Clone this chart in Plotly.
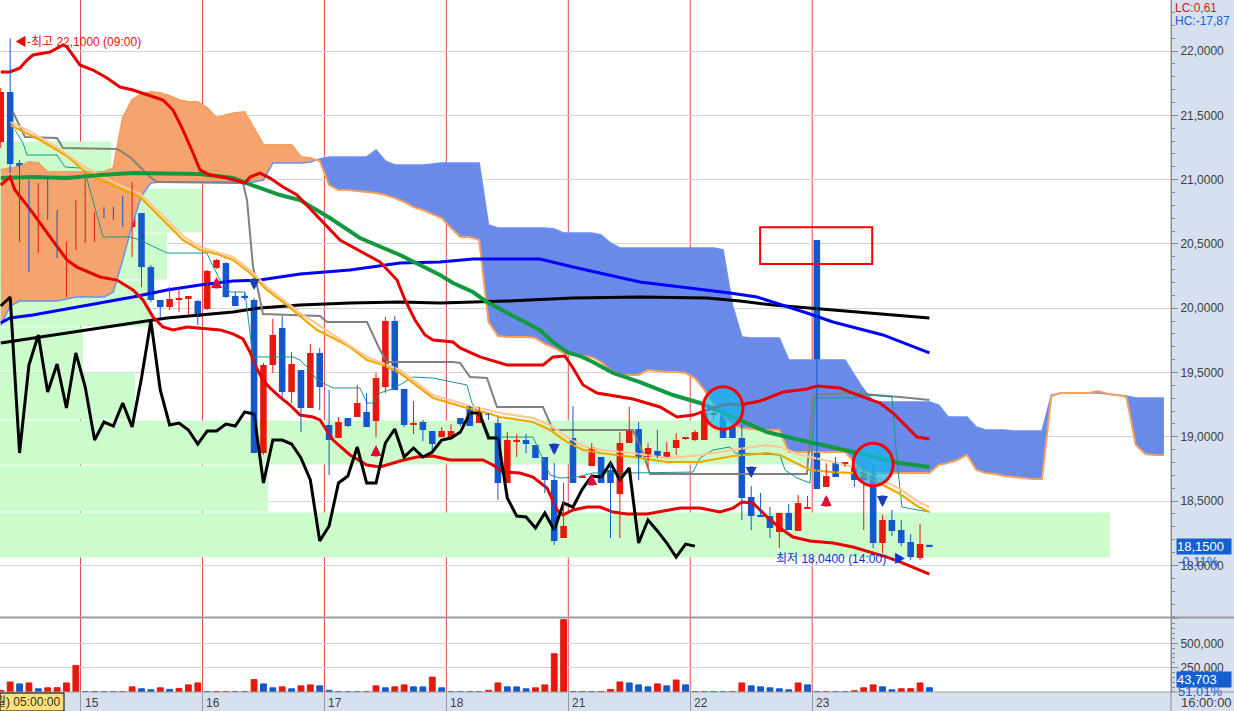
import plotly.graph_objects as go

# ---------------- data ----------------
day_labels = ["15", "16", "17", "18", "21", "22", "23"]
day_first_bar = [9, 22, 35, 48, 61, 74, 87]

opens = [
    21.292, 21.681, 21.129, 20.538, 20.437, 20.904, 20.725, 20.398, 20.507, 20.507,
    20.523, 20.717, 20.771, 20.740, 20.631, 20.740, 20.320, 20.064, 20.009, 20.064,
    20.072, 20.056, 19.994, 20.313, 20.351, 20.095, 20.095, 20.064, 18.874, 19.558,
    19.846, 19.348, 19.519, 19.224, 19.652, 19.092, 18.991, 19.146, 19.154, 19.193,
    19.123, 19.387, 19.901, 19.372, 19.099, 19.115, 19.045, 18.998, 18.998, 19.146,
    19.240, 19.107, 19.185, 19.107, 18.641, 18.967, 18.975, 18.936, 18.843, 18.664,
    18.213, 18.991, 18.687, 18.773, 18.843, 18.742, 18.555, 18.952, 19.061, 18.843,
    18.890, 18.843, 18.913, 18.983, 18.975, 18.975, 19.177, 19.169, 19.076, 18.991,
    18.532, 18.384, 18.384, 18.260, 18.408, 18.268, 18.446, 20.530, 18.610, 18.796,
    18.789, 18.765, 18.664, 18.758, 18.174, 18.353, 18.275, 18.182, 18.058, 18.160]
highs = [
    21.712, 22.100, 21.152, 20.997, 20.973, 21.020, 20.764, 20.515, 20.841, 21.005,
    20.748, 20.787, 20.787, 20.873, 20.981, 20.740, 20.336, 20.064, 20.165, 20.142,
    20.095, 20.064, 20.297, 20.383, 20.359, 20.126, 20.118, 20.079, 19.574, 19.916,
    19.939, 19.659, 19.519, 19.722, 19.691, 19.364, 19.154, 19.146, 19.403, 19.341,
    19.496, 19.932, 19.939, 19.372, 19.278, 19.131, 19.045, 19.076, 19.099, 19.146,
    19.240, 19.232, 19.185, 19.154, 19.037, 19.022, 19.022, 18.936, 18.843, 18.796,
    18.641, 19.240, 18.695, 18.952, 18.843, 18.796, 19.037, 19.232, 19.115, 18.952,
    19.053, 18.960, 19.030, 18.998, 19.053, 19.208, 19.247, 19.208, 19.092, 19.092,
    18.617, 18.563, 18.454, 18.408, 18.478, 18.548, 18.540, 20.530, 18.796, 18.843,
    18.804, 18.765, 18.758, 18.781, 18.392, 18.431, 18.353, 18.244, 18.322, 18.160]
lows = [
    21.246, 21.051, 20.515, 20.282, 20.429, 20.686, 20.390, 20.087, 20.453, 20.507,
    20.515, 20.701, 20.686, 20.631, 20.398, 20.165, 20.048, 19.924, 19.986, 19.971,
    19.947, 19.870, 19.986, 20.305, 20.079, 20.017, 20.064, 18.874, 18.859, 19.496,
    19.302, 19.263, 19.037, 19.224, 19.208, 18.703, 18.991, 19.076, 19.154, 19.076,
    18.998, 19.341, 19.364, 19.076, 19.022, 18.967, 18.898, 18.998, 18.998, 19.084,
    19.084, 19.107, 19.131, 18.509, 18.641, 18.843, 18.874, 18.835, 18.563, 18.159,
    18.213, 18.641, 18.687, 18.773, 18.641, 18.213, 18.213, 18.952, 18.664, 18.758,
    18.835, 18.843, 18.859, 18.975, 18.967, 18.975, 19.131, 18.991, 18.991, 18.353,
    18.275, 18.377, 18.213, 18.135, 18.275, 18.268, 18.446, 18.594, 18.610, 18.687,
    18.765, 18.610, 18.275, 18.135, 18.097, 18.229, 18.151, 18.040, 18.042, 18.150]
closes = [
    21.681, 21.121, 20.530, 20.437, 20.904, 20.717, 20.398, 20.499, 20.841, 20.530,
    20.733, 20.709, 20.694, 20.631, 20.740, 20.320, 20.064, 20.009, 20.072, 20.072,
    20.095, 19.932, 20.289, 20.375, 20.087, 20.017, 20.087, 18.874, 19.558, 19.792,
    19.348, 19.566, 19.224, 19.652, 19.387, 18.975, 19.115, 19.084, 19.263, 19.076,
    19.457, 19.901, 19.364, 19.092, 19.107, 19.053, 18.944, 19.045, 19.045, 19.099,
    19.084, 19.193, 19.177, 18.641, 18.975, 18.975, 18.944, 18.835, 18.664, 18.190,
    18.307, 18.641, 18.695, 18.921, 18.641, 18.641, 18.952, 19.061, 18.843, 18.913,
    18.843, 18.882, 18.975, 18.991, 19.037, 19.185, 19.185, 18.991, 18.991, 18.524,
    18.384, 18.377, 18.291, 18.408, 18.275, 18.485, 18.454, 18.594, 18.695, 18.687,
    18.796, 18.664, 18.758, 18.174, 18.353, 18.268, 18.174, 18.065, 18.166, 18.150]
volumes = [
    17000, 103000, 83000, 93000, 33000, 43000, 44000, 93000, 273000, 4000,
    3500, 3000, 2500, 3000, 53000, 33000, 23000, 43000, 27000, 37000,
    73000, 93000, 3000, 3500, 4000, 3500, 4500, 127000, 83000, 43000,
    53000, 33000, 63000, 73000, 63000, 17000, 4000, 3000, 2500, 3000,
    63000, 43000, 53000, 73000, 53000, 52000, 153000, 43000, 4000, 3500,
    3000, 2500, 17000, 93000, 53000, 52000, 33000, 43000, 73000, 393000,
    743000, 4000, 3500, 3000, 5000, 27000, 103000, 93000, 73000, 53000,
    83000, 63000, 123000, 73000, 3000, 3500, 4000, 3000, 4000, 93000,
    63000, 53000, 43000, 33000, 23000, 93000, 73000, 3000, 3500, 3000,
    2500, 13000, 43000, 73000, 53000, 23000, 33000, 34000, 93000, 43703]

# indicator lines: (bar position, price)
bb_up_x = [0, 0.98, 2.05, 2.79, 3.43, 5.25, 6.63, 7.06, 8.44, 9.83, 11.32, 12.71, 14.09, 15.91, 17.29,
           18.36, 19.42, 20.49, 21.24, 22.30, 24.11, 26.03, 26.57, 27.63, 28.70, 30.09, 31.58, 36.16,
           40.43, 42.24, 43.09, 44.16, 45.22, 46.08, 48.21, 48.96, 51.09, 53.97, 57.80, 58.87, 60.15,
           61.0, 62.07, 63.56, 67.40, 70.28, 72.09, 73.8, 75.29, 77.42, 78.81, 80.94, 83.39, 85.95,
           87.02, 89.47, 90.53, 93.73, 95.12, 97.68, 99.0]
bb_up = [21.837, 21.837, 21.868, 21.930, 21.969, 21.992, 22.047, 22.031, 21.891, 21.852, 21.790, 21.720,
         21.697, 21.650, 21.619, 21.541, 21.386, 21.207, 21.075, 21.036, 21.012, 20.974, 21.020, 21.051,
         21.012, 20.942, 20.880, 20.530, 20.359, 20.219, 20.064, 19.908, 19.792, 19.753, 19.737, 19.691,
         19.621, 19.558, 19.558, 19.621, 19.628, 19.535, 19.403, 19.341, 19.294, 19.232, 19.154, 19.169,
         19.208, 19.255, 19.247, 19.278, 19.348, 19.372, 19.395, 19.380, 19.348, 19.263, 19.185, 18.998,
         18.983]
bb_dn_x = [0, 0.98, 1.51, 2.37, 3.43, 5.25, 6.31, 7.06, 8.12, 9.51, 10.58, 12.39, 14.09, 15.16, 16.23,
           17.29, 18.36, 19.85, 21.24, 23.37, 24.75, 25.82, 26.57, 27.31, 27.95, 28.70, 29.77, 30.83,
           31.90, 33.28, 34.03, 35.42, 37.23, 39.04, 40.43, 42.56, 44.37, 46.08, 47.89, 51.41, 52.47,
           53.54, 55.35, 56.74, 58.23, 59.30, 59.94, 61.0, 62.49, 63.88, 65.27, 66.76, 68.89, 71.02,
           72.41, 74.54, 76.67, 78.06, 79.02, 80.19, 81.68, 83.07, 84.45, 86.27, 88.72, 90.85, 93.0,
           94.47, 95.86, 97.25, 99.0]
bb_dn = [20.958, 21.020, 20.919, 20.841, 20.740, 20.554, 20.453, 20.375, 20.320, 20.274, 20.243, 20.219,
         20.142, 20.064, 19.932, 19.854, 19.831, 19.854, 19.846, 19.831, 19.800, 19.761, 19.659, 19.527,
         19.442, 19.380, 19.309, 19.247, 19.169, 19.154, 19.131, 18.975, 18.859, 18.781, 18.765, 18.812,
         18.843, 18.851, 18.820, 18.820, 18.781, 18.726, 18.718, 18.687, 18.602, 18.431, 18.392, 18.431,
         18.454, 18.454, 18.415, 18.400, 18.400, 18.431, 18.446, 18.446, 18.415, 18.446, 18.493, 18.485,
         18.377, 18.291, 18.221, 18.190, 18.174, 18.143, 18.097, 18.065, 18.027, 17.988, 17.933]
ma_green_x = [0, 3.43, 7.06, 10.58, 14.09, 17.72, 21.24, 24.75, 26.03, 27.63, 29.77, 31.90, 35.09, 38.29,
              42.56, 46.82, 48.21, 50.34, 51.83, 53.97, 56.10, 57.48, 58.87, 60.36, 61.75, 63.13, 65.27,
              68.14, 71.66, 74.54, 78.06, 81.68, 85.20, 88.72, 92.34, 95.86, 99.0]
ma_green = [21.012, 21.020, 21.012, 21.036, 21.051, 21.051, 21.044, 21.012, 20.981, 20.935, 20.880, 20.841,
            20.701, 20.546, 20.414, 20.258, 20.196, 20.126, 20.048, 19.963, 19.885, 19.830, 19.737, 19.659,
            19.628, 19.582, 19.496, 19.426, 19.325, 19.263, 19.154, 19.037, 18.975, 18.921, 18.859, 18.796,
            18.765]
ma_blue_x = [0, 0.98, 3.43, 7.06, 10.58, 14.09, 17.72, 21.24, 24.75, 27.63, 31.90, 37.23, 42.56, 46.82,
             50.34, 57.48, 61.0, 64.63, 68.14, 71.66, 75.29, 77.74, 80.62, 83.39, 85.95, 88.72, 91.60,
             94.05, 99.0]
ma_blue = [19.885, 19.924, 19.947, 19.994, 20.040, 20.087, 20.142, 20.180, 20.212, 20.219, 20.266, 20.297,
           20.351, 20.359, 20.383, 20.383, 20.320, 20.258, 20.204, 20.173, 20.141, 20.118, 20.087, 20.025,
           19.963, 19.893, 19.838, 19.792, 19.652]
ma_black_x = [0, 3.43, 7.06, 10.58, 14.09, 17.72, 21.24, 24.75, 27.63, 31.90, 37.23, 42.56, 46.82, 53.97,
              61.0, 68.14, 75.29, 78.81, 82.32, 85.95, 91.60, 99.0]
ma_black = [19.729, 19.768, 19.807, 19.846, 19.885, 19.924, 19.947, 19.971, 20.002, 20.025, 20.040, 20.048,
            20.040, 20.056, 20.079, 20.087, 20.079, 20.056, 20.025, 20.002, 19.971, 19.924]
ma_orange_x = [0.98, 2.05, 2.79, 4.18, 5.99, 7.06, 8.76, 10.58, 12.39, 14.84, 16.97, 19.42, 21.24, 23.05,
               24.75, 26.57, 28.38, 30.51, 31.90, 33.71, 35.42, 37.23, 39.04, 40.75, 42.56, 46.08, 49.70,
               51.41, 53.22, 56.74, 58.55, 60.36, 62.07, 63.88, 67.40, 71.02, 74.54, 78.06, 81.68, 83.07,
               85.20, 86.27, 88.72, 91.28, 92.67, 94.05, 95.86, 97.68, 99.0]
ma_orange = [21.425, 21.386, 21.355, 21.308, 21.230, 21.184, 21.075, 20.997, 20.942, 20.865, 20.709, 20.530,
             20.453, 20.421, 20.375, 20.274, 20.142, 20.025, 19.939, 19.830, 19.768, 19.698, 19.597, 19.558,
             19.496, 19.302, 19.224, 19.193, 19.154, 19.115, 19.053, 18.960, 18.898, 18.874, 18.843, 18.804,
             18.804, 18.851, 18.874, 18.859, 18.781, 18.742, 18.726, 18.718, 18.680, 18.625, 18.555, 18.462,
             18.415]
ma_peach_x = [0.98, 2.79, 5.99, 8.76, 12.39, 14.84, 16.97, 19.42, 21.24, 24.75, 26.57, 28.38, 31.90, 35.42,
              39.04, 42.56, 46.08, 49.70, 53.22, 56.74, 58.55, 60.36, 62.07, 63.88, 67.40, 71.02, 74.54,
              78.06, 81.68, 83.07, 85.20, 88.72, 91.28, 92.67, 93.73, 95.86, 97.68, 99.0]
ma_peach = [21.448, 21.386, 21.253, 21.106, 20.966, 20.888, 20.740, 20.561, 20.476, 20.398, 20.297, 20.165,
            19.963, 19.792, 19.621, 19.519, 19.325, 19.247, 19.185, 19.146, 19.092, 18.998, 18.928, 18.898,
            18.874, 18.835, 18.858, 18.898, 18.936, 18.921, 18.859, 18.804, 18.758, 18.711, 18.672, 18.594,
            18.501, 18.454]
kijun_x = [1.30, 2.05, 2.58, 5.99, 6.63, 12.39, 13.77, 14.84, 15.91, 16.65, 25.82, 26.25, 26.89, 27.42,
           27.95, 34.03, 34.78, 39.04, 40.43, 41.17, 48.21, 48.96, 50.02, 51.83, 52.90, 57.80, 58.87,
           67.40, 68.46, 69.21, 85.95, 86.59, 90.53, 95.86, 99.0]
kijun = [21.526, 21.409, 21.331, 21.324, 21.246, 21.238, 21.176, 21.098, 21.020, 20.981, 20.973, 20.841,
         20.320, 20.142, 19.955, 19.939, 19.893, 19.893, 19.675, 19.582, 19.582, 19.574, 19.465, 19.457,
         19.232, 19.232, 19.053, 19.053, 18.874, 18.711, 18.711, 19.325, 19.341, 19.310, 19.286]
tenkan_x = [1.51, 2.37, 2.79, 5.99, 6.84, 8.44, 8.98, 10.90, 13.77, 14.84, 17.72, 21.98, 22.30, 23.37,
            24.43, 26.03, 26.57, 26.89, 31.15, 31.90, 32.96, 33.71, 35.42, 38.29, 39.04, 39.68, 40.43,
            41.71, 42.88, 43.94, 46.08, 49.70, 50.23, 51.30, 52.15, 56.74, 58.55, 59.62, 61.43, 63.13,
            67.40, 73.8, 74.54, 75.93, 77.74, 78.27, 83.07, 83.60, 84.88, 86.27, 86.80, 91.28, 91.92,
            92.45, 95.01, 95.54, 96.07, 99.0]
tenkan = [21.386, 21.285, 21.191, 21.191, 21.098, 21.090, 21.059, 20.554, 20.554, 20.530, 20.429, 20.429,
          20.375, 20.219, 20.126, 20.126, 19.807, 19.621, 19.621, 19.597, 19.519, 19.442, 19.380, 19.380,
          19.263, 19.263, 19.341, 19.372, 19.418, 19.465, 19.457, 19.403, 19.263, 19.154, 18.998, 18.998,
          18.703, 18.680, 18.687, 18.719, 18.719, 18.726, 18.835, 18.898, 18.921, 18.874, 18.859, 18.742,
          18.680, 18.641, 19.302, 19.302, 19.380, 19.325, 19.310, 18.820, 18.454, 18.415]

# Ichimoku leading spans (one value per bar slot, already displaced forward)
span_a = [
    21.075, 21.090, 21.098, 21.137, 21.129, 21.059, 21.059, 21.059, 21.059, 21.059,
    21.059, 21.059, 21.090, 21.479, 21.619, 21.666, 21.681, 21.673, 21.650, 21.619,
    21.603, 21.603, 21.557, 21.479, 21.502, 21.518, 21.526, 21.401, 21.269, 21.269,
    21.269, 21.269, 21.176, 21.168, 21.145, 20.958, 20.919, 20.919, 20.911, 20.904,
    20.896, 20.880, 20.857, 20.826, 20.787, 20.764, 20.733, 20.701, 20.624, 20.554,
    20.554, 20.530, 19.893, 19.784, 19.776, 19.776, 19.776, 19.768, 19.722, 19.691,
    19.652, 19.636, 19.628, 19.621, 19.582, 19.519, 19.481, 19.481, 19.481, 19.519,
    19.512, 19.504, 19.504, 19.496, 19.457, 19.364, 19.255, 19.162, 19.092, 19.068,
    19.061, 19.053, 19.053, 19.053, 18.882, 18.882, 18.882, 18.882, 18.882, 18.882,
    18.882, 18.804, 18.719, 18.719, 18.719, 18.719, 18.719, 18.719, 18.719, 18.719,
    18.781, 18.796, 18.820, 18.859, 18.742, 18.719, 18.711, 18.695, 18.687, 18.680,
    18.672, 18.672, 19.317, 19.341, 19.341, 19.341, 19.341, 19.356, 19.333, 19.325,
    19.310, 18.936, 18.866, 18.859, 18.859]
span_b = [
    19.869, 20.017, 20.056, 20.056, 20.056, 20.056, 20.056, 20.072, 20.087, 20.087,
    20.087, 20.087, 20.126, 20.375, 20.647, 20.873, 20.973, 20.981, 20.981, 20.981,
    20.981, 20.981, 20.981, 20.981, 20.981, 20.981, 20.981, 20.981, 20.997, 21.129,
    21.129, 21.129, 21.129, 21.137, 21.160, 21.176, 21.176, 21.176, 21.176, 21.176,
    21.230, 21.145, 21.114, 21.114, 21.114, 21.114, 21.121, 21.129, 21.129, 21.129,
    21.129, 21.129, 20.647, 20.624, 20.624, 20.624, 20.624, 20.624, 20.624, 20.616,
    20.585, 20.585, 20.585, 20.585, 20.569, 20.507, 20.468, 20.468, 20.468, 20.468,
    20.468, 20.468, 20.468, 20.468, 20.468, 20.468, 20.468, 20.453, 20.025, 19.776,
    19.768, 19.768, 19.768, 19.768, 19.597, 19.597, 19.597, 19.597, 19.597, 19.597,
    19.597, 19.481, 19.364, 19.278, 19.271, 19.271, 19.271, 19.271, 19.271, 19.271,
    19.247, 19.154, 19.154, 19.154, 19.076, 19.053, 19.053, 19.053, 19.045, 19.045,
    19.045, 19.045, 19.325, 19.341, 19.341, 19.341, 19.341, 19.341, 19.333, 19.325,
    19.317, 19.302, 19.302, 19.302, 19.302]
LAG = 25  # lagging-span displacement in bars

# price-volume zones
profile_low = [18.058, 18.415, 18.781, 19.131, 19.504, 19.854, 20.219, 20.585, 20.935]
profile_high = [18.415, 18.781, 19.131, 19.504, 19.854, 20.219, 20.585, 20.935, 21.300]
profile_end = [118.25, 28.49, 86.27, 14.31, 8.76, 15.9, 17.72, 21.45, 11.75]

buy_signals = [23, 40, 63, 88]
sell_signals = [27, 59, 80, 94]
price_ticks = [18.0, 18.5, 19.0, 19.5, 20.0, 20.5, 21.0, 21.5, 22.0]
vol_ticks = [250000, 500000, 750000]
vol_tick_text = ["250,000", "500,000", ""]

# ---------------- styling ----------------
RED = "#e6190f"
BLUE = "#1558cc"
FONT = "Liberation Sans, Arial, Noto Sans CJK KR, sans-serif"
X_LEFT, X_RIGHT = -0.085, 124.755
Y_BOT, Y_TOP = 17.599, 22.3966

N = len(closes)
bars = list(range(N))
up = [c >= o for o, c in zip(opens, closes)]

fig = go.Figure()

# volume profile zones
fig.add_trace(go.Bar(
    orientation="h", y=[(l + h) / 2 for l, h in zip(profile_low, profile_high)],
    x=[e - X_LEFT for e in profile_end], base=X_LEFT,
    width=[h - l - 0.007 for l, h in zip(profile_low, profile_high)],
    marker=dict(color="#ccfccc", line_width=0), hoverinfo="skip"))

# cloud fill
cx = list(range(len(span_a)))
X, A, B = [], [], []
for k in range(len(cx)):
    if k > 0:
        d0 = span_a[k - 1] - span_b[k - 1]
        d1 = span_a[k] - span_b[k]
        if d0 * d1 < 0:
            t = d0 / (d0 - d1)
            xc = cx[k - 1] + t * (cx[k] - cx[k - 1])
            yc = span_a[k - 1] + t * (span_a[k] - span_a[k - 1])
            X.append(xc); A.append(yc); B.append(yc)
    X.append(cx[k]); A.append(span_a[k]); B.append(span_b[k])
hi = [max(p, q) for p, q in zip(A, B)]
fig.add_trace(go.Scatter(x=X + X[::-1], y=hi + B[::-1], fill="toself", fillcolor="#f4a46c",
                         line=dict(width=0), mode="lines", hoverinfo="skip"))
fig.add_trace(go.Scatter(x=X + X[::-1], y=hi + A[::-1], fill="toself", fillcolor="#6a8aea",
                         line=dict(width=0), mode="lines", hoverinfo="skip"))
fig.add_trace(go.Scatter(x=cx, y=span_b, mode="lines", line=dict(color="#6f8ff0", width=1.5)))
fig.add_trace(go.Scatter(x=cx, y=span_a, mode="lines", line=dict(color="#f4a060", width=2)))

# lines
def add_line(x, y, color, width):
    fig.add_trace(go.Scatter(x=x, y=y, mode="lines", line=dict(color=color, width=width),
                             hoverinfo="skip"))

add_line(ma_black_x, ma_black, "#000000", 3)
add_line(ma_blue_x, ma_blue, "#0000ff", 3)
add_line(kijun_x, kijun, "#808080", 2)
add_line(tenkan_x, tenkan, "#149a8a", 1)
add_line(ma_orange_x, ma_orange, "#f0a800", 2.2)
add_line(ma_peach_x, ma_peach, "#ffc896", 2.2)
add_line(ma_green_x, ma_green, "#129a40", 4)
add_line(bb_up_x, bb_up, "#e60000", 3)
add_line(bb_dn_x, bb_dn, "#e60000", 3)
# lagging span
add_line(bars[:N - LAG], closes[LAG:], "#000000", 3)

# candle wicks
for flag, col in ((True, RED), (False, BLUE)):
    wx, wy = [], []
    for i in bars:
        if up[i] == flag:
            wx += [i, i, None]
            wy += [lows[i], highs[i], None]
    fig.add_trace(go.Scatter(x=wx, y=wy, mode="lines", line=dict(color=col, width=1), hoverinfo="skip"))

# candle bodies
fig.add_trace(go.Bar(
    x=bars, y=[max(abs(c - o), 0.009) for o, c in zip(opens, closes)],
    base=[min(o, c) for o, c in zip(opens, closes)], width=0.7,
    marker=dict(color=[RED if u else BLUE for u in up], line_width=0), hoverinfo="skip"))

# volume
vcol = [RED if (i == 0 or volumes[i] >= volumes[i - 1]) else BLUE for i in bars]
fig.add_trace(go.Bar(x=bars, y=volumes, width=0.62, yaxis="y2",
                     marker=dict(color=vcol, line=dict(color=vcol, width=1)), hoverinfo="skip"))

# ---------------- shapes ----------------
shapes = []
for d in day_first_bar:
    shapes.append(dict(type="line", xref="x", yref="paper", x0=d - 0.5, x1=d - 0.5, y0=0, y1=1,
                       line=dict(color="#e04848", width=1), layer="below"))
shapes.append(dict(type="line", xref="paper", yref="paper", x0=0, x1=1.06, y0=0.1077, y1=0.1077,
                   line=dict(color="#9c9c9c", width=2)))
shapes.append(dict(type="line", xref="paper", yref="paper", x0=0, x1=1.06, y0=0, y1=0,
                   line=dict(color="#9c9c9c", width=1)))
shapes.append(dict(type="line", xref="paper", yref="paper", x0=1, x1=1, y0=-0.03, y1=1,
                   line=dict(color="#8c8c8c", width=1)))
shapes.append(dict(type="rect", xref="paper", yref="paper", x0=0, x1=64 / 1171, y0=-0.0275,
                   y1=-0.0015, fillcolor="#ffe07a", line=dict(color="#000000", width=1)))
big = 87
shapes.append(dict(type="rect", xref="x", yref="y", x0=big - 6.05, x1=big + 5.9,
                   y0=highs[big] - 0.186, y1=highs[big] + 0.10,
                   line=dict(color="#ff0000", width=2)))
for ci, cp in ((77, 19.224), (93, 18.785)):
    shapes.append(dict(type="circle", xref="x", yref="y", x0=ci - 2.13, x1=ci + 2.13,
                       y0=cp - 0.165, y1=cp + 0.165, fillcolor="rgba(20,185,235,0.72)",
                       line=dict(color="#ff0000", width=3), layer="above"))

# ---------------- annotations ----------------
ann = []
for i in buy_signals:
    ann.append(dict(x=i, y=lows[i], xref="x", yref="y", ax=0, ay=21, text="", showarrow=True,
                    arrowhead=2, arrowsize=0.55, arrowwidth=4, arrowcolor="#d8103a", standoff=8))
for i in sell_signals:
    ann.append(dict(x=i, y=highs[i], xref="x", yref="y", ax=0, ay=-21, text="", showarrow=True,
                    arrowhead=2, arrowsize=0.55, arrowwidth=4, arrowcolor="#1a3cb8", standoff=8))
hi_i = max(bars, key=lambda i: highs[i])
lo_i = min(bars, key=lambda i: lows[i])
ann.append(dict(x=hi_i, y=highs[hi_i], xref="x", yref="y", xanchor="left", yanchor="middle",
                xshift=3, yshift=-4, showarrow=False,
                text="◀-최고 " + f"{highs[hi_i]:.4f}".replace(".", ",") + " (09:00)",
                font=dict(family=FONT, size=12, color="#e01010")))
ann.append(dict(x=lo_i, y=lows[lo_i], xref="x", yref="y", xanchor="right", yanchor="middle",
                xshift=-4, yshift=1, showarrow=False,
                text="최저 " + f"{lows[lo_i]:.4f}".replace(".", ",") + " (14:00) -▶",
                font=dict(family=FONT, size=12, color="#1030e0")))
for d, lab in zip(day_first_bar, day_labels):
    ann.append(dict(x=d - 0.5, y=0, xref="x", yref="paper", xanchor="left", yanchor="top",
                    xshift=2, yshift=-2, showarrow=False, text=lab,
                    font=dict(family=FONT, size=12, color="#404040")))
ann.append(dict(x=62 / 1171, y=-0.0145, xref="paper", yref="paper", xanchor="right", yanchor="middle",
                showarrow=False, text="(월) 05:00:00", font=dict(family=FONT, size=12, color="#303030")))
ann.append(dict(x=1.0068, y=-0.0155, xref="paper", yref="paper", xanchor="left", yanchor="middle",
                showarrow=False, text="16:00:00", font=dict(family=FONT, size=13, color="#404040")))
ann.append(dict(x=1.0017, y=1 - 8 / 692, xref="paper", yref="paper", xanchor="left", yanchor="middle",
                showarrow=False, text="LC:0,61", font=dict(family=FONT, size=12, color="#e01010")))
ann.append(dict(x=1.0017, y=1 - 21 / 692, xref="paper", yref="paper", xanchor="left", yanchor="middle",
                showarrow=False, text="HC:-17,87", font=dict(family=FONT, size=12, color="#1060e0")))
last = closes[-1]
ann.append(dict(x=1.0043, y=last, xref="paper", yref="y", xanchor="left", yanchor="middle",
                showarrow=False, text=f"{last:.4f}".replace(".", ","), bgcolor="#1560d0",
                width=54, align="left", borderpad=0,
                font=dict(family=FONT, size=13, color="#ffffff")))
ann.append(dict(x=1.0043, y=last, xref="paper", yref="y", xanchor="left", yanchor="middle",
                yshift=-15, showarrow=False, text="-0,11%",
                font=dict(family=FONT, size=13, color="#1560d0")))
ann.append(dict(x=1.0043, y=volumes[-1], xref="paper", yref="y2", xanchor="left", yanchor="middle",
                yshift=8, showarrow=False, text=f"{volumes[-1]:,}", bgcolor="#1560d0",
                width=54, align="left", borderpad=0,
                font=dict(family=FONT, size=13, color="#ffffff")))
ann.append(dict(x=1.0043, y=volumes[-1], xref="paper", yref="y2", xanchor="left", yanchor="middle",
                yshift=-4, showarrow=False, text="51,01%",
                font=dict(family=FONT, size=13, color="#1560d0")))

tickfont = dict(family=FONT, size=12, color="#3c3c3c")
fig.update_layout(
    width=1234, height=711, margin=dict(l=0, r=63, t=0, b=19),
    paper_bgcolor="#d6e0ef", plot_bgcolor="#ffffff",
    showlegend=False, barmode="overlay", hovermode=False,
    shapes=shapes, annotations=ann,
    xaxis=dict(range=[X_LEFT, X_RIGHT], anchor="y2", showgrid=False, zeroline=False,
               tickmode="array", tickvals=[d - 0.5 for d in day_first_bar], ticks="outside",
               ticklen=19, tickcolor="#9a9a9a", tickwidth=1, showticklabels=False),
    yaxis=dict(domain=[0.1084, 1], range=[Y_BOT, Y_TOP], side="right", anchor="x",
               tickmode="array", tickvals=price_ticks,
               ticktext=[f"{v:.4f}".replace(".", ",") for v in price_ticks],
               ticks="outside", ticklen=6, tickcolor="#888888", showline=True,
               linecolor="#8c8c8c", linewidth=1, showgrid=True, gridcolor="#d5d5d5",
               zeroline=False, tickfont=tickfont,
               minor=dict(dtick=0.1, tick0=0, ticklen=3, tickcolor="#888888", ticks="outside",
                          showgrid=False)),
    yaxis2=dict(domain=[0, 0.1069], range=[0, 760000], side="right", anchor="x",
                tickmode="array", tickvals=vol_ticks, ticktext=vol_tick_text,
                ticks="outside", ticklen=6, tickcolor="#888888", showline=True,
                linecolor="#8c8c8c", linewidth=1, showgrid=True, gridcolor="#d5d5d5",
                zeroline=False, tickfont=tickfont,
                minor=dict(dtick=50000, tick0=0, ticklen=3, tickcolor="#888888", ticks="outside",
                           showgrid=False)),
)

fig.write_html("out.html", config={"displayModeBar": False},
               post_script="document.body.style.margin='0';document.body.style.overflow='hidden';")
